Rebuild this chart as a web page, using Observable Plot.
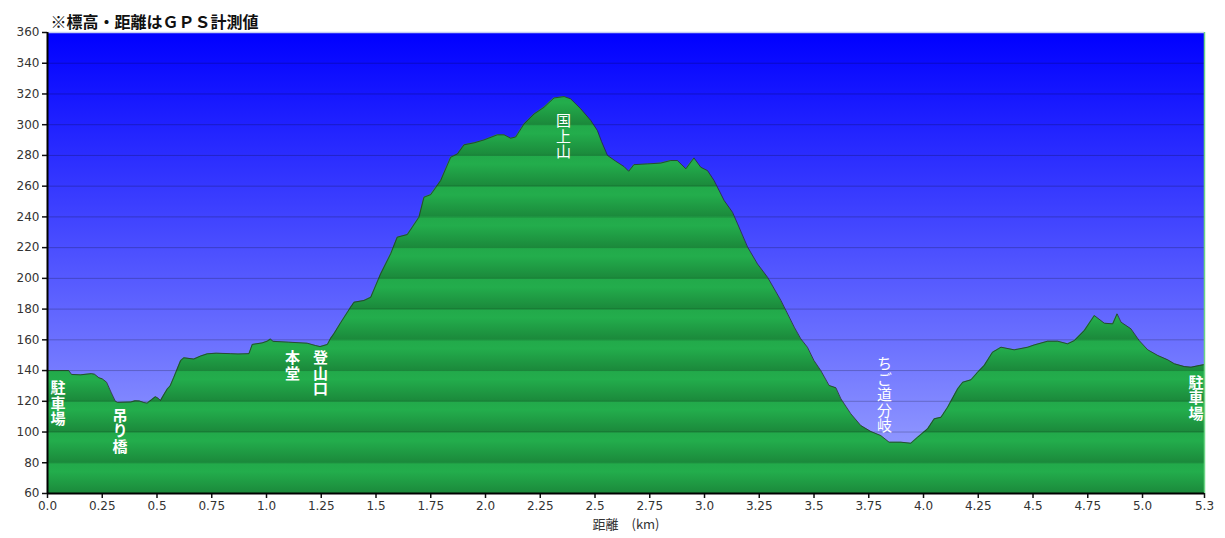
<!DOCTYPE html>
<html>
<head>
<meta charset="utf-8">
<script src="https://cdn.jsdelivr.net/npm/d3@7"></script>
<script src="https://cdn.jsdelivr.net/npm/@observablehq/plot@0.6"></script>
<style>
  html, body { margin: 0; padding: 0; background: #ffffff; }
  #chart svg { display: block; }
  .vlabel text { writing-mode: vertical-rl; letter-spacing: 0.5px; }
</style>
</head>
<body>
<div id="chart"></div>
<script>
// Distance along the trail (km)
const dist = [
  0.000, 0.097, 0.110, 0.150, 0.200, 0.215, 0.235, 0.250, 0.270, 0.290,
  0.310, 0.320, 0.380, 0.400, 0.420, 0.440, 0.455, 0.475, 0.493, 0.505,
  0.516, 0.530, 0.547, 0.560, 0.577, 0.608, 0.623, 0.668, 0.700, 0.730,
  0.770, 0.836, 0.870, 0.920, 0.935, 0.980, 1.003, 1.018, 1.030, 1.100,
  1.186, 1.224, 1.245, 1.278, 1.293, 1.308, 1.338, 1.384, 1.400, 1.445,
  1.476, 1.521, 1.567, 1.597, 1.643, 1.696, 1.719, 1.750, 1.795, 1.841,
  1.872, 1.902, 1.948, 1.993, 2.054, 2.085, 2.115, 2.138, 2.176, 2.222,
  2.267, 2.313, 2.359, 2.389, 2.435, 2.481, 2.511, 2.530, 2.557, 2.595,
  2.633, 2.654, 2.678, 2.740, 2.800, 2.846, 2.876, 2.915, 2.952, 2.983,
  3.014, 3.044, 3.090, 3.128, 3.151, 3.197, 3.242, 3.288, 3.349, 3.410,
  3.440, 3.470, 3.500, 3.531, 3.569, 3.600, 3.623, 3.668, 3.714, 3.760,
  3.805, 3.843, 3.897, 3.942, 3.973, 4.019, 4.049, 4.080, 4.110, 4.156,
  4.179, 4.217, 4.247, 4.277, 4.315, 4.354, 4.414, 4.476, 4.506, 4.567,
  4.613, 4.658, 4.689, 4.734, 4.780, 4.826, 4.864, 4.884, 4.902, 4.947,
  4.985, 5.024, 5.070, 5.115, 5.146, 5.191, 5.222, 5.260, 5.283
];
// Elevation (m)
const elev = [
  140.0, 140.0, 137.5, 137.2, 138.0, 137.6, 135.3, 134.6, 132.4, 126.0,
  120.0, 119.3, 119.5, 120.3, 120.2, 119.2, 118.8, 121.0, 123.0, 122.0,
  120.5, 124.0, 128.0, 130.0, 135.7, 146.5, 148.3, 147.5, 149.5, 150.9,
  151.3, 151.0, 150.8, 151.0, 157.0, 158.0, 159.1, 160.5, 159.0, 158.5,
  157.8, 156.3, 155.6, 157.0, 161.0, 164.0, 171.0, 181.2, 184.5, 185.6,
  187.7, 202.9, 216.0, 226.8, 228.5, 239.8, 252.8, 254.5, 263.6, 278.8,
  281.0, 286.9, 288.2, 290.1, 293.4, 293.4, 291.2, 292.0, 300.5, 307.0,
  311.3, 317.4, 318.3, 316.8, 310.3, 302.7, 296.2, 289.0, 280.0, 276.2,
  272.7, 269.7, 274.0, 274.5, 275.0, 276.7, 276.7, 271.3, 278.4, 272.3,
  270.1, 263.6, 250.6, 243.0, 235.5, 220.3, 209.4, 200.7, 185.6, 168.2,
  160.6, 155.2, 146.5, 140.0, 130.3, 128.8, 121.6, 111.9, 104.2, 100.3,
  97.7, 93.4, 93.4, 92.7, 96.6, 102.1, 108.6, 109.6, 116.1, 128.1,
  132.4, 134.0, 138.9, 143.3, 151.9, 155.2, 153.5, 155.2, 156.7, 159.1,
  159.1, 157.4, 159.5, 166.0, 175.8, 170.8, 170.4, 176.9, 171.5, 167.2,
  159.5, 153.5, 149.8, 147.0, 144.4, 142.6, 142.2, 143.3, 143.9
];

const xMax = 5.283;
const yTicks = [60, 80, 100, 120, 140, 160, 180, 200, 220, 240, 260, 280, 300, 320, 340, 360];
const gridTicks = [80, 100, 120, 140, 160, 180, 200, 220, 240, 260, 280, 300, 320, 340];
const xTicks = [0, 0.25, 0.5, 0.75, 1.0, 1.25, 1.5, 1.75, 2.0, 2.25, 2.5, 2.75, 3.0, 3.25, 3.5, 3.75, 4.0, 4.25, 4.5, 4.75, 5.0, xMax];
const xTickLabels = ["0.0", "0.25", "0.5", "0.75", "1.0", "1.25", "1.5", "1.75", "2.0", "2.25", "2.5", "2.75", "3.0", "3.25", "3.5", "3.75", "4.0", "4.25", "4.5", "4.75", "5.0", "5.3"];

// Waypoint annotations (vertical text)
const boldLabels = ["駐車場", "吊り橋", "本堂", "登山口", "駐車場"];
const boldLabelX = [0.048, 0.331, 1.119, 1.247, 5.244];
const boldLabelY = [119.2, 101.3, 143.9, 138.7, 122.8];
const plainLabels = ["国上山", "ちご道分岐"];
const plainLabelX = [2.356, 3.822];
const plainLabelY = [293.1, 124.7];

const titleText = "※標高・距離はＧＰＳ計測値";
const xLabelText = "距離　(km)";

const profile = dist.map((d, i) => ({d, e: elev[i]}));
const boldData = boldLabels.map((t, i) => ({t, x: boldLabelX[i], y: boldLabelY[i]}));
const plainData = plainLabels.map((t, i) => ({t, x: plainLabelX[i], y: plainLabelY[i]}));

const cjk = "'Noto Sans CJK JP', 'Noto Sans', sans-serif";

const chart = Plot.plot({
  width: 1225,
  height: 538,
  marginLeft: 47,
  marginRight: 21,
  marginTop: 32,
  marginBottom: 45,
  style: {background: "#ffffff", fontFamily: "'DejaVu Sans', Verdana, sans-serif"},
  x: {domain: [0, xMax]},
  y: {domain: [60, 360]},
  marks: [
    Plot.frame({fill: "url(#bgGrad)", stroke: null}),
    Plot.areaY(profile, {x: "d", y: "e", fill: "url(#greenBands)", clip: true}),
    Plot.ruleY(gridTicks, {stroke: "#000", strokeOpacity: 0.22, strokeWidth: 1}),
    Plot.line(profile, {x: "d", y: "e", stroke: "#2a2a2a", strokeOpacity: 0.75, strokeWidth: 1}),
    Plot.ruleY([360], {stroke: "#c4ccf4", strokeWidth: 1.5}),
    Plot.ruleX([xMax], {stroke: "#6cd585", strokeWidth: 1.5}),
    Plot.axisY({ticks: yTicks, tickSize: 5, tickPadding: 3, fontSize: 12, fill: "#333", stroke: "#111", strokeWidth: 1.5, label: null}),
    Plot.axisX({ticks: xTicks, tickFormat: (d) => xTickLabels[xTicks.indexOf(d)], tickSize: 5, tickPadding: 3, fontSize: 12, fill: "#333", stroke: "#111", strokeWidth: 1.5, label: null}),
    Plot.ruleX([0], {stroke: "#000", strokeWidth: 2}),
    Plot.ruleY([60], {stroke: "#000", strokeWidth: 2}),
    Plot.text(boldData, {x: "x", y: "y", text: "t", className: "vlabel", textAnchor: "middle", fill: "#ffffff", fontSize: 15, fontWeight: "bold", fontFamily: cjk}),
    Plot.text(plainData, {x: "x", y: "y", text: "t", className: "vlabel", textAnchor: "middle", fill: "#ffffff", fontSize: 15, fontWeight: "normal", fontFamily: cjk}),
    Plot.text([titleText], {frameAnchor: "top-left", text: (d) => d, dx: 3, dy: -16, textAnchor: "start", fontSize: 16, fontWeight: "bold", fill: "#111", fontFamily: cjk}),
    Plot.text([xLabelText], {frameAnchor: "bottom", text: (d) => d, dy: 35, fontSize: 13, fill: "#333", fontFamily: cjk})
  ]
});

// Vertical labels: replace the horizontal baseline shift with a small upward nudge
chart.querySelectorAll(".vlabel text").forEach((t) => { t.setAttribute("dy", "-4"); });

// Gradients positioned with the chart's own y scale
const ys = chart.scale("y");
const yTop = ys.apply(360), yBottom = ys.apply(60), yBand = ys.apply(80);
const ns = "http://www.w3.org/2000/svg";
const defs = document.createElementNS(ns, "defs");
function grad(id, y1, y2, stops, repeat) {
  const g = document.createElementNS(ns, "linearGradient");
  g.setAttribute("id", id);
  g.setAttribute("gradientUnits", "userSpaceOnUse");
  g.setAttribute("x1", 0); g.setAttribute("x2", 0);
  g.setAttribute("y1", y1); g.setAttribute("y2", y2);
  if (repeat) g.setAttribute("spreadMethod", "repeat");
  for (const [o, c] of stops) {
    const s = document.createElementNS(ns, "stop");
    s.setAttribute("offset", o);
    s.setAttribute("stop-color", c);
    g.appendChild(s);
  }
  defs.appendChild(g);
}
grad("bgGrad", yTop, yBottom, [[0, "#0000ff"], [1, "#a0a8ff"]], false);
grad("greenBands", yBand, yBottom, [[0, "#22a94a"], [0.3, "#23ad4c"], [1, "#1b893b"]], true);
chart.insertBefore(defs, chart.firstChild);

document.getElementById("chart").appendChild(chart);
</script>
</body>
</html>
